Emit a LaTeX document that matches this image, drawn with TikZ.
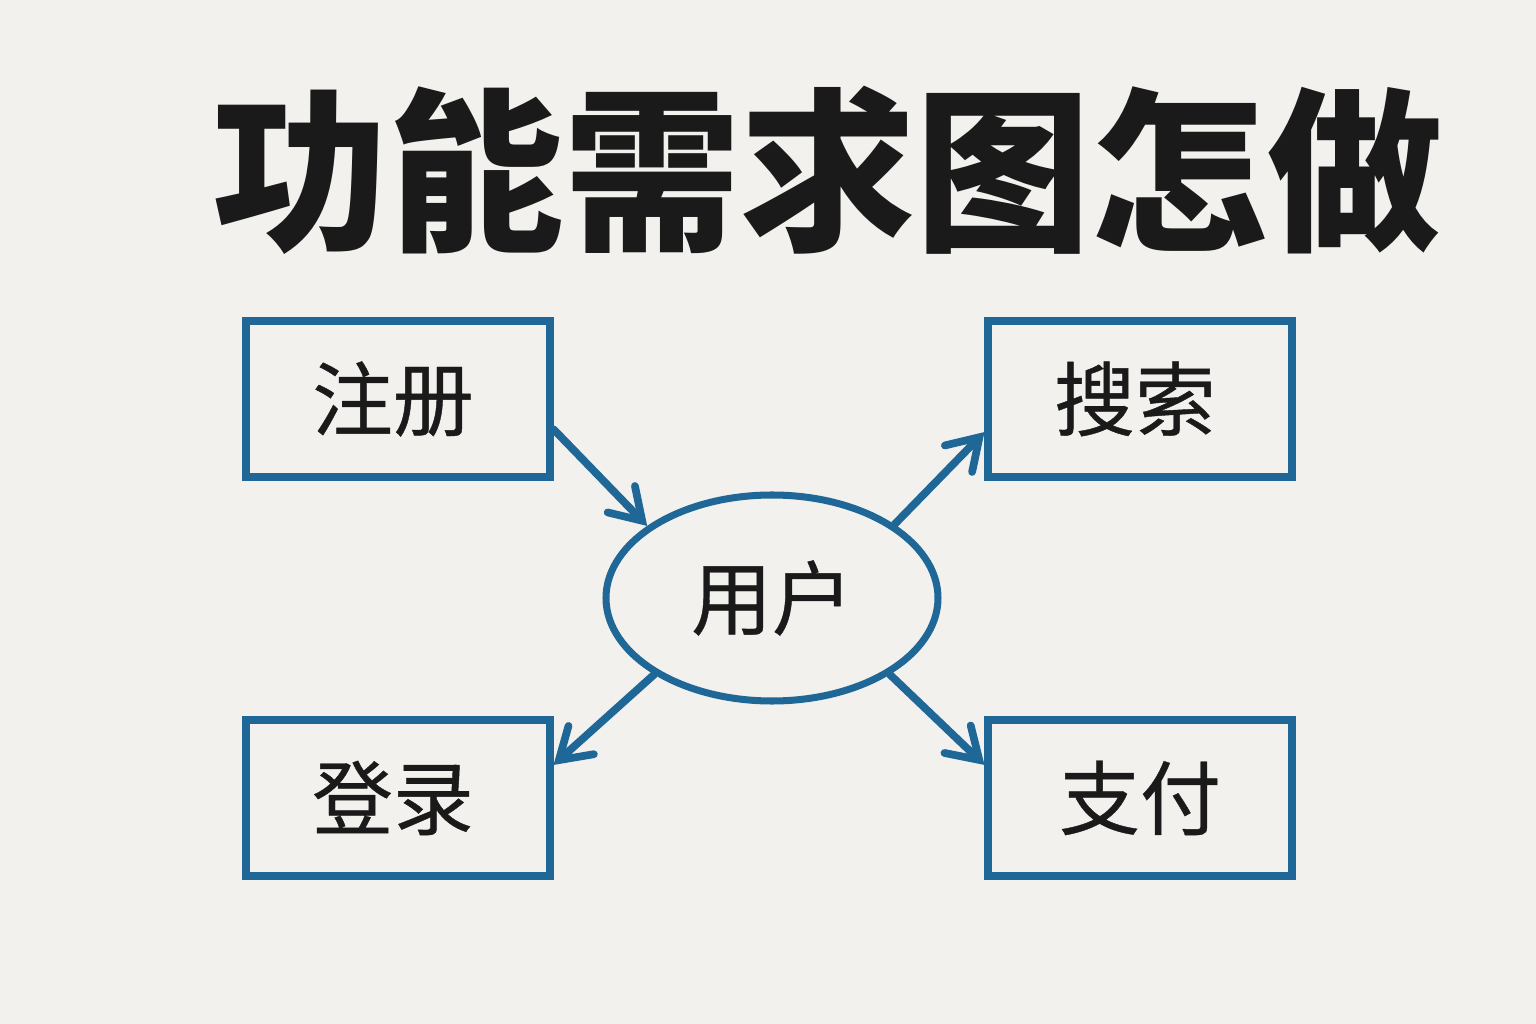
\documentclass[tikz,border=0pt]{standalone}
\usepackage{fontspec}
\usepackage{tikz}
\usetikzlibrary{arrows.meta, shapes.geometric, calc}
\usepackage{xcolor}
\newfontfamily\cjk{Noto Sans CJK SC}
\newfontfamily\cjkmed{Noto Sans CJK SC}[FakeBold=0.5]
\definecolor{bg}{HTML}{F3F1EE}
\definecolor{lineblue}{HTML}{1F6797}
\definecolor{ink}{HTML}{1A1A1A}

\begin{document}
\begin{tikzpicture}[x=0.1mm, y=-0.1mm,
	funcbox/.style={draw=lineblue, line width=2pt, minimum width=30.4mm, minimum height=15.6mm, inner sep=0pt, font=\cjkmed\fontsize{23}{23}\selectfont, text=ink},
	userell/.style={ellipse, draw=lineblue, line width=2pt, minimum width=33.2mm, minimum height=20.6mm, inner sep=0pt, font=\cjkmed\fontsize{23}{23}\selectfont, text=ink},
	link/.style={draw=lineblue, line width=2.2pt, line cap=round, -{Straight Barb[length=3mm, width=3.8mm, line width=2.2pt, line cap=round]}}]
	\fill [bg] (0,0) rectangle (1536,1024);
%	\draw (0,0) grid (1536,1024);
	\node (title) at (828,170) [font=\cjk\bfseries\fontsize{50}{50}\selectfont, text=ink] {功能需求图怎做};
	\node (user) at (772,598) [userell] {用户};
	\node (zhuce) at (398,399) [funcbox] {\hspace*{-1mm}注册};
	\node (sousuo) at (1140,399) [funcbox] {\hspace*{-1mm}搜索};
	\node (denglu) at (398,798) [funcbox] {\hspace*{-1mm}登录};
	\node (zhifu) at (1140,798) [funcbox] {支付};
	\draw [link] (zhuce.-11) -- (user.150);
	\draw [link] (user.31) -- (sousuo.-168);
	\draw [link] (user.213) -- (denglu.12);
	\draw [link] (user.-33) -- (zhifu.168);

\end{tikzpicture}
\end{document}
